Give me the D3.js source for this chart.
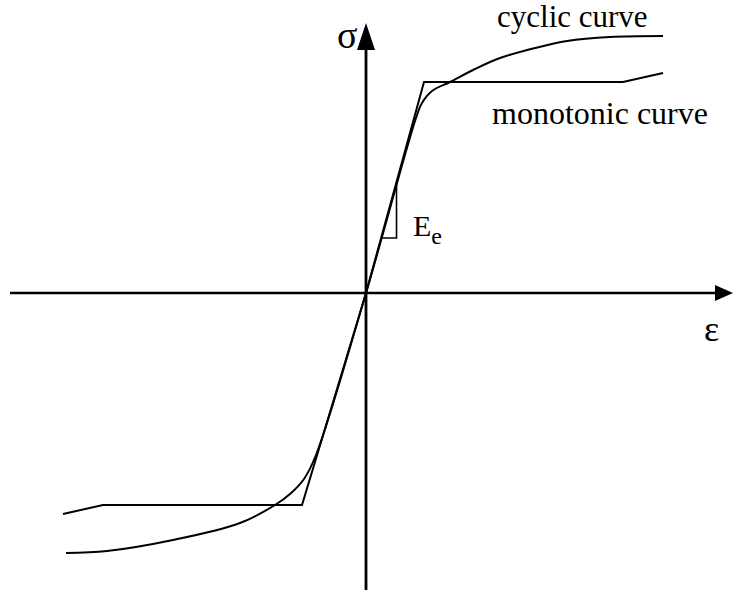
<!DOCTYPE html>
<html>
<head>
<meta charset="utf-8">
<script src="https://cdn.jsdelivr.net/npm/d3@7"></script>
<style>
  html, body { margin: 0; padding: 0; background: #fff; }
  svg { display: block; }
</style>
</head>
<body>
<script>
// Monotonic (bilinear with hardening) stress-strain curve
const monoStrain = [-3.03, -2.63, -0.64, 0, 0.58, 2.57, 2.97];
const monoStress = [-2.21, -2.12, -2.12, 0, 2.11, 2.11, 2.20];

// Cyclic stress-strain curve
const cycStrain = [-3.00, -2.59, -1.93, -1.26, -0.91, -0.76, -0.62, -0.50, 0,
                   0.50, 0.56, 0.66, 0.84, 1.09, 1.34, 1.69, 2.01, 2.44, 2.97];
const cycStress = [-2.60, -2.58, -2.47, -2.30, -2.12, -2.01, -1.86, -1.62, 0,
                   1.75, 1.90, 2.02, 2.11, 2.24, 2.35, 2.45, 2.52, 2.56, 2.57];

// Stress levels bounding the elastic-modulus triangle
const triStress = [0.55, 1.11];

const labels = {
  cyclic: "cyclic curve",
  mono: "monotonic curve",
  sigma: "σ",
  eps: "ε",
  modulus: "E",
  modulusSub: "e"
};

const W = 733, H = 595;
const svg = d3.select("body").append("svg").attr("width", W).attr("height", H);

const x = d3.scaleLinear().domain([-3.56, 3.67]).range([10, 733]);
const y = d3.scaleLinear().domain([-2.97, 2.70]).range([590, 23]);

// Axes with arrowheads
const ax = svg.append("g");
ax.append("line")
  .attr("x1", x(-3.56)).attr("x2", x(3.50))
  .attr("y1", y(0)).attr("y2", y(0))
  .attr("stroke", "#000").attr("stroke-width", 2.6);
ax.append("path")
  .attr("d", `M${x(3.67)},${y(0)} L${x(3.49)},${y(0) - 8} L${x(3.49)},${y(0) + 8} Z`)
  .attr("fill", "#000");
ax.append("line")
  .attr("x1", x(0)).attr("x2", x(0))
  .attr("y1", y(-2.97)).attr("y2", y(2.50))
  .attr("stroke", "#000").attr("stroke-width", 2.8);
ax.append("path")
  .attr("d", `M${x(0)},${y(2.70)} L${x(0) - 9},${y(2.43)} L${x(0) + 9},${y(2.43)} Z`)
  .attr("fill", "#000");

// Monotonic curve (piecewise linear)
const mono = monoStrain.map((e, i) => [e, monoStress[i]]);
svg.append("path")
  .datum(mono)
  .attr("d", d3.line().x(d => x(d[0])).y(d => y(d[1])))
  .attr("fill", "none").attr("stroke", "#000").attr("stroke-width", 2)
  .attr("stroke-linejoin", "miter");

// Cyclic curve (smooth)
const cyc = cycStrain.map((e, i) => [e, cycStress[i]]);
svg.append("path")
  .datum(cyc)
  .attr("d", d3.line().x(d => x(d[0])).y(d => y(d[1])).curve(d3.curveCatmullRom.alpha(0.5)))
  .attr("fill", "none").attr("stroke", "#000").attr("stroke-width", 2);

// Elastic modulus triangle on the monotonic elastic branch
const E = monoStress[4] / monoStrain[4];
const tLo = triStress[0], tHi = triStress[1];
svg.append("path")
  .attr("d", `M${x(tHi / E)},${y(tHi)} L${x(tHi / E)},${y(tLo)} L${x(tLo / E)},${y(tLo)}`)
  .attr("fill", "none").attr("stroke", "#000").attr("stroke-width", 1.6);

// Labels
const txt = (px, py, size, s) => svg.append("text")
  .attr("x", px).attr("y", py)
  .style("font-family", "Liberation Serif")
  .style("font-size", size + "px")
  .attr("fill", "#000").text(s);

txt(497, 27, 31, labels.cyclic);
txt(492, 124, 32, labels.mono);
txt(337, 48, 38, labels.sigma);
txt(704, 341, 36, labels.eps);
const ee = txt(413, 236, 30, labels.modulus);
ee.append("tspan").style("font-size", "24px").attr("dy", 8).text(labels.modulusSub);
</script>
</body>
</html>
